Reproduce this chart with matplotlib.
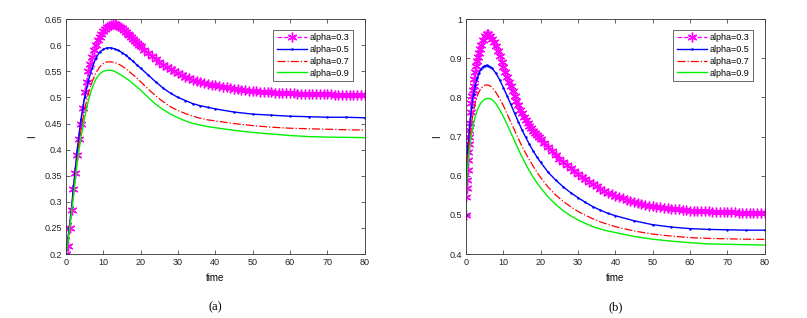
import numpy as np
import matplotlib.pyplot as plt

# ---- data ----
labels = ['alpha=0.3', 'alpha=0.5', 'alpha=0.7', 'alpha=0.9']

# panel (a): sample times for the marker series (alpha=0.3)
t_mag_a = list(np.arange(0, 20, 0.5)) + list(range(20, 81))
mag_a = [0.2, 0.215, 0.25, 0.285, 0.325, 0.355, 0.39, 0.42, 0.45, 0.48,
         0.51, 0.53, 0.55, 0.564, 0.578, 0.59, 0.6, 0.609, 0.616, 0.622,
         0.627, 0.631, 0.635, 0.637, 0.639, 0.64, 0.64, 0.639, 0.637, 0.635,
         0.632, 0.629, 0.626, 0.622, 0.619, 0.615, 0.612, 0.608, 0.605, 0.601,
         0.598, 0.591, 0.585, 0.579, 0.573, 0.568, 0.563, 0.558, 0.554, 0.55,
         0.546, 0.543, 0.54, 0.537, 0.534, 0.532, 0.53, 0.528, 0.526, 0.524,
         0.523, 0.521, 0.52, 0.519, 0.518, 0.517, 0.516, 0.515, 0.514, 0.513,
         0.513, 0.512, 0.511, 0.511, 0.51, 0.51, 0.509, 0.509, 0.509, 0.508,
         0.508, 0.508, 0.507, 0.507, 0.507, 0.507, 0.506, 0.506, 0.506, 0.506,
         0.506, 0.506, 0.505, 0.505, 0.505, 0.505, 0.505, 0.505, 0.505, 0.505, 0.505]

t_line_a = [0, 0.5, 1, 1.5, 2, 2.5, 3, 3.5, 4, 4.5, 5,
            6, 7, 8, 9, 10, 11, 12, 13, 14, 15, 16, 17, 18, 19, 20,
            22, 24, 26, 28, 30, 32, 34, 36, 38, 40,
            45, 50, 55, 60, 65, 70, 75, 80]
blue_a = [0.2, 0.23, 0.26, 0.29, 0.33, 0.365, 0.4, 0.43, 0.458, 0.48, 0.5,
          0.532, 0.557, 0.575, 0.587, 0.592, 0.595, 0.595, 0.593, 0.59, 0.586,
          0.581, 0.575, 0.569, 0.562, 0.556,
          0.543, 0.53, 0.518, 0.508, 0.5, 0.494, 0.488, 0.484, 0.481, 0.478,
          0.472, 0.468, 0.466, 0.464, 0.463, 0.462, 0.462, 0.461]
red_a = [0.2, 0.225, 0.255, 0.285, 0.315, 0.35, 0.385, 0.413, 0.437, 0.458, 0.477,
         0.508, 0.53, 0.547, 0.558, 0.565, 0.568, 0.568, 0.567, 0.564, 0.56,
         0.555, 0.549, 0.543, 0.537, 0.53,
         0.516, 0.503, 0.492, 0.482, 0.475, 0.469, 0.464, 0.46, 0.457, 0.455,
         0.45, 0.446, 0.443, 0.441, 0.44, 0.439, 0.438, 0.4375]
green_a = [0.2, 0.222, 0.25, 0.28, 0.31, 0.343, 0.375, 0.4, 0.423, 0.443, 0.462,
           0.494, 0.518, 0.535, 0.545, 0.55, 0.552, 0.552, 0.55, 0.546, 0.542,
           0.537, 0.532, 0.526, 0.52, 0.514,
           0.5, 0.487, 0.477, 0.468, 0.461, 0.455, 0.45, 0.447, 0.444, 0.442,
           0.437, 0.433, 0.43, 0.427, 0.425, 0.424, 0.4235, 0.423]

# panel (b)
t_mag_b = ([0, 0.1, 0.2, 0.3, 0.4, 0.5, 0.6, 0.7, 0.8, 0.9,
            1.0, 1.2, 1.4, 1.6, 1.8,
            2.0, 2.25, 2.5, 2.75, 3.0, 3.25, 3.5, 3.75]
           + list(np.arange(4, 20, 0.5)) + list(range(20, 81)))
mag_b = [0.5, 0.546, 0.568, 0.59, 0.615, 0.64, 0.66, 0.68, 0.698, 0.717,
         0.735, 0.762, 0.785, 0.803, 0.818,
         0.83, 0.848, 0.865, 0.88, 0.892, 0.903, 0.914, 0.924,
         0.933, 0.947, 0.957, 0.963, 0.962, 0.957, 0.95, 0.941, 0.93, 0.918, 0.905, 0.891,
         0.877, 0.865, 0.853, 0.84, 0.828, 0.816, 0.804, 0.792, 0.78, 0.769,
         0.759, 0.75, 0.742, 0.735, 0.728, 0.721, 0.715, 0.709, 0.704, 0.698,
         0.693, 0.683, 0.673, 0.663, 0.653, 0.644, 0.636, 0.628, 0.62, 0.612,
         0.605, 0.598, 0.591, 0.585, 0.579, 0.573, 0.567, 0.562, 0.557, 0.553,
         0.549, 0.545, 0.542, 0.539, 0.536, 0.533, 0.531, 0.528, 0.526, 0.524,
         0.522, 0.521, 0.519, 0.518, 0.517, 0.516, 0.515, 0.514, 0.513, 0.512,
         0.511, 0.511, 0.51, 0.51, 0.509, 0.509, 0.508, 0.508, 0.508, 0.507,
         0.507, 0.507, 0.507, 0.506, 0.506, 0.506, 0.506, 0.506, 0.506, 0.506, 0.506]

t_line_b = [0, 0.1, 0.25, 0.5, 1, 1.5, 2, 2.5, 3, 3.5, 4, 4.5, 5, 5.5, 6, 6.5, 7,
            8, 9, 10, 11, 12, 13, 14, 15, 16, 17, 18, 19, 20,
            22, 24, 26, 28, 30, 32, 34, 36, 38, 40,
            45, 50, 55, 60, 65, 70, 75, 80]
blue_b = [0.5, 0.59, 0.63, 0.675, 0.73, 0.775, 0.808, 0.832, 0.85, 0.863, 0.872,
          0.878, 0.881, 0.882, 0.881, 0.878, 0.874,
          0.862, 0.845, 0.825, 0.804, 0.782, 0.76, 0.738, 0.717, 0.698, 0.68,
          0.663, 0.648, 0.634,
          0.609, 0.589, 0.572, 0.557, 0.544, 0.532, 0.521, 0.512, 0.504, 0.498,
          0.485, 0.475, 0.469, 0.465, 0.463, 0.462, 0.461, 0.461]
red_b = [0.5, 0.58, 0.615, 0.652, 0.7, 0.737, 0.765, 0.787, 0.803, 0.815, 0.823,
         0.828, 0.831, 0.832, 0.831, 0.829, 0.825,
         0.813, 0.797, 0.779, 0.758, 0.737, 0.716, 0.695, 0.675, 0.657, 0.64,
         0.624, 0.609, 0.595,
         0.571, 0.551, 0.535, 0.521, 0.509, 0.499, 0.49, 0.482, 0.476, 0.47,
         0.459, 0.451, 0.446, 0.442, 0.44, 0.439, 0.438, 0.4375]
green_b = [0.5, 0.565, 0.598, 0.632, 0.675, 0.707, 0.733, 0.752, 0.767, 0.778, 0.786,
           0.791, 0.795, 0.797, 0.797, 0.797, 0.794,
           0.784, 0.769, 0.751, 0.731, 0.71, 0.689, 0.668, 0.648, 0.629, 0.612,
           0.596, 0.582, 0.569,
           0.546, 0.527, 0.511, 0.498, 0.487, 0.478, 0.47, 0.464, 0.459, 0.455,
           0.445, 0.438, 0.433, 0.429, 0.426, 0.425, 0.424, 0.423]

plt.rcParams['font.family'] = ['Liberation Sans', 'DejaVu Sans']


def draw_panel(ax, t_mag, mag, t_line, blue, red, green, ylim, yticks, caption):
    ax.plot(t_mag, mag, color='#ff00ff', ls='--', lw=0.9, marker=(6, 2, 0),
            ms=7, mew=1.0, label=labels[0])
    ax.plot(t_line, blue, color='#0000ff', ls='-', lw=1.0, marker='.', ms=1.5,
            label=labels[1])
    ax.plot(t_line, red, color='#ff0000', ls='-.', lw=0.9, label=labels[2])
    ax.plot(t_line, green, color='#00f000', ls='-', lw=1.0, label=labels[3])

    ax.set_xlim(0, 80)
    ax.set_ylim(*ylim)
    ax.set_xticks(range(0, 81, 10))
    ax.set_yticks(yticks)
    ax.set_yticklabels(['%g' % v for v in yticks])
    ax.tick_params(direction='in', top=True, right=True, length=3, width=0.5,
                   labelsize=6.5, pad=3, colors='#222222')
    for s in ax.spines.values():
        s.set_linewidth(0.6)
        s.set_color('#333333')
    ax.set_xlabel('time', fontsize=7, labelpad=4)
    ax.set_ylabel('I', fontsize=7, rotation=90, labelpad=5)

    leg = ax.legend(loc='upper right', fontsize=6.5, frameon=True, fancybox=False,
                    borderpad=0.4, labelspacing=0.3, handlelength=3.3,
                    handletextpad=0.3, borderaxespad=0.8, bbox_to_anchor=(0.985, 0.985))
    leg.get_frame().set_edgecolor('#222222')
    leg.get_frame().set_linewidth(0.6)

    ax.text(0.5, -0.225, caption, transform=ax.transAxes, ha='center', va='center',
            fontsize=9, family='Liberation Serif')


fig = plt.figure(figsize=(8.07, 3.18), dpi=100)
ax1 = fig.add_axes([0.0818, 0.201, 0.370, 0.739])
ax2 = fig.add_axes([0.5775, 0.201, 0.370, 0.739])

draw_panel(ax1, t_mag_a, mag_a, t_line_a, blue_a, red_a, green_a,
           (0.2, 0.65), [0.2, 0.25, 0.3, 0.35, 0.4, 0.45, 0.5, 0.55, 0.6, 0.65], '(a)')
draw_panel(ax2, t_mag_b, mag_b, t_line_b, blue_b, red_b, green_b,
           (0.4, 1.0), [0.4, 0.5, 0.6, 0.7, 0.8, 0.9, 1.0], '(b)')

fig.savefig('out.png', dpi=100)
